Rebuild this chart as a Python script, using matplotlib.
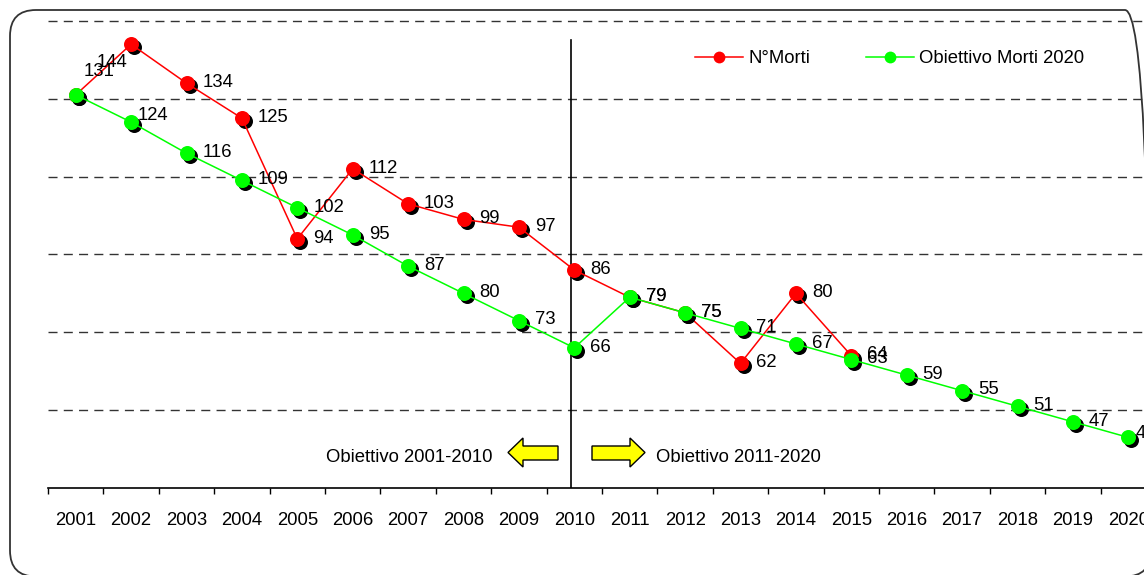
import matplotlib

matplotlib.use("Agg")
import matplotlib.pyplot as plt  # noqa: E402
import matplotlib.transforms as mtransforms  # noqa: E402
from matplotlib.lines import Line2D  # noqa: E402
from matplotlib.patches import FancyBboxPatch, Polygon  # noqa: E402

# ── data ──
years = [str(y) for y in range(2001, 2021)]
morti = [131, 144, 134, 125, 94, 112, 103, 99, 97, 86, 79, 75, 62, 80, 64]
obiettivo = [131, 124, 116, 109, 102, 95, 87, 80, 73, 66,
             79, 75, 71, 67, 63, 59, 55, 51, 47, 43]
grid_levels = [50, 70, 90, 110, 130, 150]

W, H = 1144, 575
RED = "#ff0000"
GREEN = "#00ff00"
FS = 13.3

plt.rcParams["font.family"] = ["Liberation Sans", "DejaVu Sans"]

fig = plt.figure(figsize=(W / 100, H / 100), dpi=100, facecolor="white")
ax = fig.add_axes([48 / W, 87 / H, 1108 / W, 471 / H])
ax.set_xlim(-0.5, len(years) - 0.5)
ax.set_ylim(30, 151)

# pixel transform (top-left origin) for decorations
px = mtransforms.Affine2D().scale(1, -1).translate(0, H)

# outer rounded frame (runs off the right and bottom edges, like the original export)
frame = FancyBboxPatch((10, -1.5), 1141, 566.5, boxstyle="round,pad=0,rounding_size=26",
                       transform=None, facecolor="none", edgecolor="#333333", lw=1.3)
fig.add_artist(frame)

# axes styling
for s in ("left", "right", "top"):
    ax.spines[s].set_visible(False)
ax.spines["bottom"].set_linewidth(1.2)
ax.set_yticks(grid_levels)
ax.tick_params(axis="y", length=0, labelleft=False)
ax.yaxis.grid(True, linestyle=(0, (6.5, 4.5)), color="#333333", linewidth=1)
ax.set_axisbelow(True)
ax.set_xticks(range(len(years)))
ax.set_xticklabels(years, fontsize=FS)
ax.set_xticks([i - 0.5 for i in range(len(years) + 1)], minor=True)
ax.tick_params(axis="x", which="major", length=0, pad=17)
ax.tick_params(axis="x", which="minor", length=4, width=1, direction="out")

shadow = mtransforms.offset_copy(ax.transData, fig=fig, x=3, y=-3, units="dots")
xm = list(range(len(morti)))
xo = list(range(len(obiettivo)))

# shadows, lines, markers
ax.plot(xm, morti, "o", color="black", ms=10.8, mew=0, transform=shadow, zorder=3)
ax.plot(xm, morti, "-", color=RED, lw=1.1, zorder=4)
ax.plot(xm, morti, "o", color=RED, ms=10.8, mew=0, zorder=5)
ax.plot(xo, obiettivo, "o", color="black", ms=10.8, mew=0, transform=shadow, zorder=6)
ax.plot(xo, obiettivo, "-", color=GREEN, lw=1.1, zorder=7)
ax.plot(xo, obiettivo, "o", color=GREEN, ms=10.8, mew=0, zorder=8)

# split line between the two periods
ax.plot([8.94, 8.94], [30, 145.2], color="black", lw=1.2, zorder=2)

# data labels
default_off = (11.5, 0.5)
red_off = {0: None, 1: (-24.5, -13.5)}
green_off = {0: (5.5, 17), 1: (4.5, 4.5), 19: (5.5, 3)}
for series, offs in ((morti, red_off), (obiettivo, green_off)):
    for i, v in enumerate(series):
        off = offs.get(i, default_off)
        if off is None:
            continue
        ax.annotate(str(v), (i, v), xytext=off, textcoords="offset points",
                    ha="left", va="center", fontsize=FS, zorder=10,
                    annotation_clip=False)

# legend
handles = [
    Line2D([], [], color=RED, lw=1.1, marker="o", ms=8.5, mew=0),
    Line2D([], [], color=GREEN, lw=1.1, marker="o", ms=8.5, mew=0),
]
leg = ax.legend(handles, ["N°Morti", "Obiettivo Morti 2020"], ncol=2, frameon=False,
                fontsize=FS, handlelength=2.6, handletextpad=0.3, columnspacing=3.0,
                borderpad=0, borderaxespad=0, loc="upper left",
                bbox_to_anchor=(695 / W, 1 - 50 / H), bbox_transform=fig.transFigure)

# yellow block arrows with period captions
left_arrow = [(508, 452.5), (523, 438), (523, 446), (558, 446), (558, 460),
              (523, 460), (523, 467)]
right_arrow = [(645, 452.5), (630, 438), (630, 446), (592, 446), (592, 460),
               (630, 460), (630, 467)]
for pts in (left_arrow, right_arrow):
    fig.add_artist(Polygon(pts, closed=True, transform=px, facecolor="#ffff00",
                           edgecolor="black", lw=1))
fig.text(493, 458, "Obiettivo 2001-2010", transform=px, ha="right", va="center",
         fontsize=FS)
fig.text(656, 458, "Obiettivo 2011-2020", transform=px, ha="left", va="center",
         fontsize=FS)

fig.savefig("out.png", dpi=100, facecolor="white")
